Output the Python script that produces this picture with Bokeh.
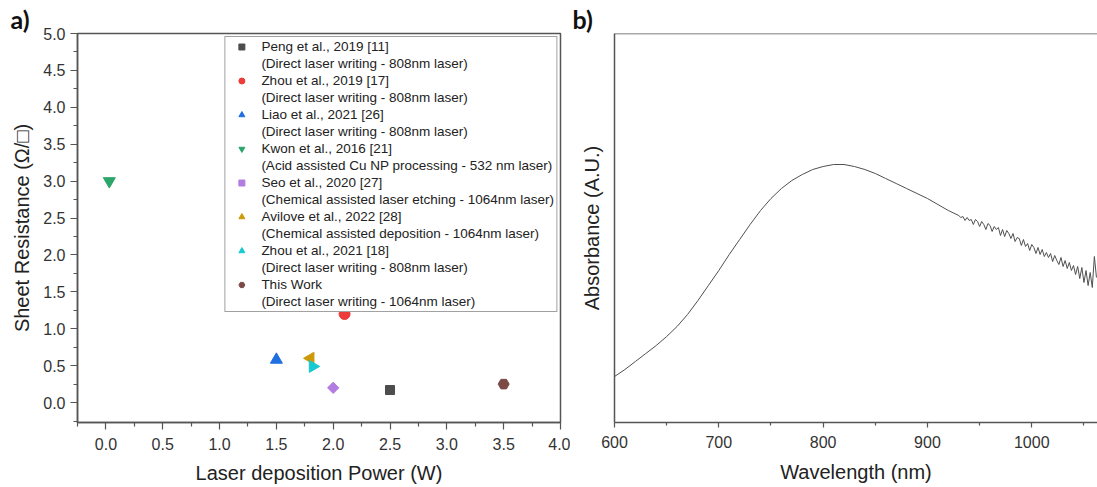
import math
from bokeh.plotting import figure
from bokeh.layouts import row
from bokeh.models import FixedTicker, Legend, LegendItem, Span, NumeralTickFormatter
from bokeh.embed import file_html
from bokeh.resources import INLINE

# ---------------- Panel a data ----------------
ref_names = ["Peng et al., 2019 [11]", "Zhou et al., 2019 [17]", "Liao et al., 2021 [26]",
             "Kwon et al., 2016 [21]", "Seo et al., 2020 [27]", "Avilove et al., 2022 [28]",
             "Zhou et al., 2021 [18]", "This Work"]
ref_methods = ["(Direct laser writing - 808nm laser)", "(Direct laser writing - 808nm laser)",
               "(Direct laser writing - 808nm laser)", "(Acid assisted Cu NP processing - 532 nm laser)",
               "(Chemical assisted laser etching - 1064nm laser)", "(Chemical assisted deposition - 1064nm laser)",
               "(Direct laser writing - 808nm laser)", "(Direct laser writing - 1064nm laser)"]
laser_power_w = [2.5, 2.1, 1.5, 0.03, 2.0, 1.8, 1.82, 3.5]
sheet_resistance = [0.17, 1.2, 0.58, 3.0, 0.2, 0.6, 0.49, 0.25]

x_ticks_a = [0.0, 0.5, 1.0, 1.5, 2.0, 2.5, 3.0, 3.5, 4.0]
y_ticks_a = [0.0, 0.5, 1.0, 1.5, 2.0, 2.5, 3.0, 3.5, 4.0, 4.5, 5.0]

# ---------------- Panel b data ----------------
wavelength_nm = [600, 610, 620, 630, 640, 650, 660, 670, 680, 690, 700, 710, 720, 730, 740,
                 750, 760, 770, 780, 790, 800, 810, 820, 830, 840, 850, 860, 870, 880, 890,
                 900, 910, 920, 930,
                 932, 934, 936, 938, 940, 942, 944, 946, 948, 950, 952, 954, 956, 958, 960,
                 962, 964, 966, 968, 970, 972, 974, 976, 978, 980, 982, 984, 986, 988, 990,
                 992, 994, 996, 998, 1000, 1002, 1004, 1006, 1008, 1010, 1012, 1014, 1016, 1018,
                 1020, 1022, 1024, 1026, 1028, 1030, 1032, 1034, 1036, 1038, 1040, 1042, 1044,
                 1046, 1048, 1050, 1052, 1054, 1056, 1058, 1060, 1062]
absorbance_au = [0.46, 0.53, 0.61, 0.69, 0.77, 0.86, 0.96, 1.08, 1.22, 1.37, 1.52, 1.68, 1.83, 1.98, 2.12,
                 2.24, 2.34, 2.42, 2.48, 2.53, 2.56, 2.58, 2.58, 2.56, 2.53, 2.49, 2.44, 2.39, 2.34, 2.29,
                 2.24, 2.18, 2.12, 2.07,
                 2.05, 2.06, 2.02, 2.05, 2.02, 2.03, 1.98, 2.03, 2.01, 1.96, 2.01, 1.98, 1.93, 1.99, 1.97,
                 1.91, 1.96, 1.93, 1.95, 1.87, 1.93, 1.86, 1.92, 1.89, 1.84, 1.89, 1.81, 1.85, 1.84, 1.77,
                 1.83, 1.76, 1.79, 1.72, 1.78, 1.75, 1.69, 1.75, 1.68, 1.73, 1.66, 1.70, 1.65, 1.69,
                 1.61, 1.67, 1.62, 1.58, 1.65, 1.56, 1.62, 1.54, 1.60, 1.52, 1.57, 1.48, 1.56,
                 1.44, 1.55, 1.40, 1.52, 1.37, 1.50, 1.35, 1.66, 1.45]
x_ticks_b = [600, 700, 800, 900, 1000]

# ---------------- styles ----------------
markers = ["square", "circle", "triangle", "inverted_triangle", "square", "triangle", "triangle", "hex"]
angles = [0, 0, 0, 0, math.pi / 4, math.pi / 2, -math.pi / 2, 0]
colors = ["#4d4d4d", "#ee3b3b", "#1f6fe0", "#2ca66a", "#b27ce0", "#cc9a06", "#17c9d0", "#7b4a47"]
msizes = [9, 11, 12, 12, 8, 12, 12, 11]

FONT = "Liberation Sans"
LABEL_FONT = "'Liberation Sans', 'DejaVu Sans'"
AX = "#555555"


def style_axes(p):
    for ax in (p.xaxis[0], p.yaxis[0]):
        ax.axis_line_color = AX
        ax.axis_line_width = 1.5
        ax.major_tick_line_color = AX
        ax.minor_tick_line_color = AX
        ax.major_tick_line_width = 1.2
        ax.minor_tick_line_width = 1.2
        ax.major_tick_in = 0
        ax.minor_tick_in = 0
        ax.major_tick_out = 7
        ax.minor_tick_out = 4
        ax.major_label_text_font = FONT
        ax.major_label_text_font_size = "16px"
        ax.major_label_text_color = "#333333"
        ax.axis_label_text_font = LABEL_FONT
        ax.axis_label_text_font_size = "20px"
        ax.axis_label_text_font_style = "normal"
        ax.axis_label_text_color = "#222222"
    p.xgrid.visible = False
    p.ygrid.visible = False


def style_title(p, offset):
    p.title.text_font = "Lato"
    p.title.text_font_style = "bold"
    p.title.text_font_size = "25px"
    p.title.text_color = "#111111"
    p.title.align = "left"
    p.title.offset = offset
    p.title.standoff = 0


# ---------------- Panel a ----------------
pa = figure(width=570, height=487, x_range=(-0.25, 4.0), y_range=(-0.27, 5.0),
            title="a)", output_backend="svg", toolbar_location=None,
            min_border_left=77, min_border_right=10, min_border_top=33, min_border_bottom=64)
style_title(pa, -67)
pa.outline_line_color = AX
pa.outline_line_width = 1.5
style_axes(pa)
pa.xaxis.ticker = FixedTicker(ticks=x_ticks_a, minor_ticks=[t + 0.25 for t in [-0.5] + x_ticks_a])
pa.yaxis.ticker = FixedTicker(ticks=y_ticks_a, minor_ticks=[t + 0.25 for t in [-0.5] + y_ticks_a])
pa.xaxis.formatter = NumeralTickFormatter(format="0.0")
pa.yaxis.formatter = NumeralTickFormatter(format="0.0")
pa.xaxis.axis_label = "Laser deposition Power (W)"
pa.yaxis.axis_label = "Sheet Resistance (Ω/□)"
pa.xaxis.major_label_standoff = 8
pa.yaxis.major_label_standoff = 5
pa.xaxis.axis_label_standoff = 9
pa.yaxis.axis_label_standoff = 7

items = []
for i in range(len(ref_names)):
    r = pa.scatter([laser_power_w[i]], [sheet_resistance[i]], marker=markers[i], angle=angles[i],
                   size=msizes[i], fill_color=colors[i], line_color=colors[i])
    items.append(LegendItem(label=ref_names[i], renderers=[r]))
    items.append(LegendItem(label=ref_methods[i], renderers=[]))

legend = Legend(items=items, location="top_right", margin=3, padding=2, spacing=2,
                glyph_width=28, glyph_height=15, label_height=15, label_standoff=6,
                label_text_font=FONT, label_text_font_size="13.5px", label_text_color="#222222",
                label_text_baseline="middle",
                border_line_color="#444444", border_line_width=1, background_fill_alpha=1)
pa.add_layout(legend)

# ---------------- Panel b ----------------
pb = figure(width=527, height=487, x_range=(600, 1063), y_range=(0, 3.89),
            title="b)", output_backend="svg", toolbar_location=None,
            min_border_left=44, min_border_right=0, min_border_top=33, min_border_bottom=65)
style_title(pb, -42)
pb.outline_line_color = None
style_axes(pb)
pb.xaxis.ticker = FixedTicker(ticks=x_ticks_b, minor_ticks=[t + 50 for t in x_ticks_b])
pb.yaxis.ticker = FixedTicker(ticks=[])
pb.xaxis.axis_label = "Wavelength (nm)"
pb.yaxis.axis_label = "Absorbance (A.U.)"
pb.xaxis.major_tick_out = 5
pb.xaxis.minor_tick_out = 3
pb.xaxis.major_label_standoff = 8
pb.xaxis.axis_label_standoff = 10
pb.yaxis.axis_label_standoff = 12
pb.add_layout(Span(location=3.89, dimension="width", line_color=AX, line_width=1.5))
pb.line(wavelength_nm, absorbance_au, line_color="#505050", line_width=1)

layout = row(pa, pb)
open("out.html", "w").write(file_html(layout, INLINE))
